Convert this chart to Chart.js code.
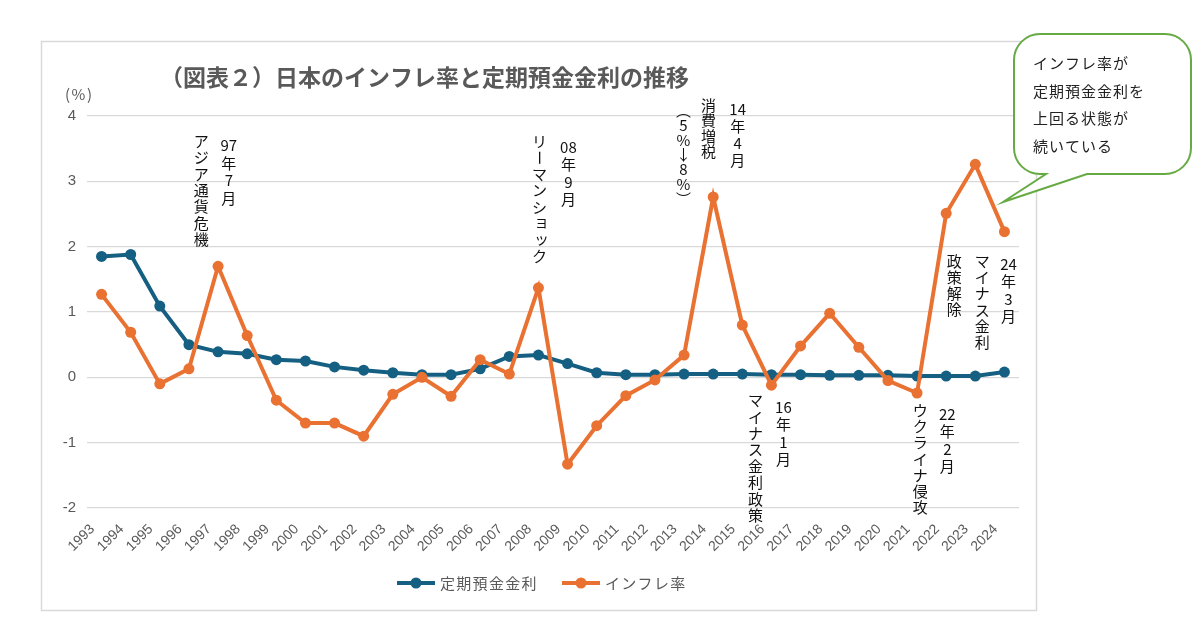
<!DOCTYPE html>
<html><head><meta charset="utf-8">
<script src="https://cdn.jsdelivr.net/npm/chart.js@4.4.1/dist/chart.umd.min.js"></script>
<style>html,body{margin:0;padding:0;background:#fff;}canvas{display:block;}</style>
</head><body>
<canvas id="c" width="1200" height="620"></canvas>
<script>
// ---------------- data ----------------
const years = ['1993','1994','1995','1996','1997','1998','1999','2000','2001','2002','2003','2004','2005','2006','2007','2008','2009','2010','2011','2012','2013','2014','2015','2016','2017','2018','2019','2020','2021','2022','2023','2024'];
const depositRate = [1.85,1.88,1.09,0.50,0.39,0.36,0.27,0.25,0.16,0.11,0.07,0.04,0.04,0.13,0.32,0.34,0.21,0.07,0.04,0.04,0.05,0.05,0.05,0.04,0.04,0.03,0.03,0.03,0.02,0.02,0.02,0.08];
const inflationRate = [1.27,0.69,-0.10,0.13,1.70,0.64,-0.35,-0.70,-0.70,-0.90,-0.26,0.00,-0.29,0.27,0.05,1.37,-1.33,-0.74,-0.28,-0.04,0.34,2.76,0.80,-0.12,0.48,0.98,0.46,-0.05,-0.24,2.51,3.26,2.23];
const seriesNames = ['定期預金金利','インフレ率'];
const yMin = -2, yMax = 4, yStep = 1;
const titleText = '（図表２）日本のインフレ率と定期預金金利の推移';
const unitText = '(%)';
const eventTexts = ['97年7月','アジア通貨危機','08年9月','リーマンショック','14年4月','消費増税','︵5%↓8%︶','16年1月','マイナス金利政策','22年2月','ウクライナ侵攻','24年3月','マイナス金利','政策解除'];
const calloutLines = ['インフレ率が','定期預金金利を','上回る状態が','続いている'];

// ---------------- layout / style ----------------
const BLUE = '#156082', ORANGE = '#E97132', GRAY = '#595959';
const CJK = '"Noto Sans CJK JP", "Noto Sans", sans-serif';
const LAT = '"Liberation Sans", Arial, sans-serif';
// column anchors: x in category index units, top in value units, step in px
const eventLayout = [
  {x:4.37, top:3.68, step:17.5},
  {x:3.42, top:3.74, step:16.4},
  {x:16.03, top:3.66, step:17.5},
  {x:15.04, top:3.74, step:16.5},
  {x:21.84, top:4.24, step:17.2},
  {x:20.84, top:4.29, step:15.5},
  {x:19.98, top:4.20, step:14.8},
  {x:23.41, top:-0.32, step:17.5},
  {x:22.45, top:-0.23, step:16.4},
  {x:29.04, top:-0.43, step:17.5},
  {x:28.11, top:-0.38, step:16.2},
  {x:31.14, top:1.87, step:17.5},
  {x:30.24, top:1.90, step:16.2},
  {x:29.28, top:1.90, step:16.0}
];

function splitCells(s){ return s.match(/\d{2,}|./gu); }

function drawVertical(ctx, text, cx, top, step){
  const cells = splitCells(text);
  ctx.save();
  ctx.font = '15px ' + CJK;
  ctx.fillStyle = '#111';
  ctx.textAlign = 'center';
  ctx.textBaseline = 'middle';
  cells.forEach((c,i)=>{
    const cy = top + step*(i+0.5);
    if (c === 'ー'){
      ctx.save(); ctx.translate(cx, cy); ctx.rotate(Math.PI/2); ctx.fillText(c,0,0); ctx.restore();
    } else if ('ョッャュィァェォ'.includes(c)){
      ctx.fillText(c, cx+2, cy-2);
    } else {
      ctx.fillText(c, cx, cy);
    }
  });
  ctx.restore();
}

const decor = {
  id:'decor',
  beforeDraw(chart){
    const ctx = chart.ctx;
    ctx.save();
    ctx.fillStyle = '#fff';
    ctx.fillRect(0,0,chart.width,chart.height);
    ctx.strokeStyle = '#d9d9d9';
    ctx.lineWidth = 1.5;
    ctx.strokeRect(41.5, 41.5, 995, 569);
    ctx.restore();
  },
  afterDraw(chart){
    const ctx = chart.ctx;
    const xs = chart.scales.x, ys = chart.scales.y;
    // title
    ctx.save();
    ctx.font = 'bold 23px ' + CJK;
    ctx.fillStyle = GRAY;
    ctx.textAlign = 'left';
    ctx.textBaseline = 'middle';
    ctx.fillText(titleText, 160, 77);
    // unit
    ctx.font = '15px ' + CJK;
    ctx.letterSpacing = '1.5px';
    ctx.fillText(unitText, 65, 94);
    ctx.restore();

    // events
    eventTexts.forEach((t,i)=>{
      const L = eventLayout[i];
      drawVertical(ctx, t, xs.getPixelForValue(L.x), ys.getPixelForValue(L.top), L.step);
    });

    // legend
    ctx.save();
    const legendY = 583;
    const items = [{x:397, color:BLUE, name:seriesNames[0]},{x:562, color:ORANGE, name:seriesNames[1]}];
    items.forEach(it=>{
      ctx.strokeStyle = it.color; ctx.lineWidth = 4; ctx.lineCap='butt';
      ctx.beginPath(); ctx.moveTo(it.x, legendY); ctx.lineTo(it.x+38, legendY); ctx.stroke();
      ctx.fillStyle = it.color;
      ctx.beginPath(); ctx.arc(it.x+19, legendY, 5.5, 0, Math.PI*2); ctx.fill();
      ctx.fillStyle = GRAY;
      ctx.font = '15px ' + CJK;
      ctx.letterSpacing = '1.3px';
      ctx.textAlign = 'left'; ctx.textBaseline = 'middle';
      ctx.fillText(it.name, it.x+43, legendY);
    });
    ctx.restore();

    // callout bubble
    ctx.save();
    const L=1014, T=34, R=1191, B=174, r=26;
    const tb1=1046, tb2=1087, tipX=1003, tipY=202;
    ctx.beginPath();
    ctx.moveTo(L+r, T);
    ctx.lineTo(R-r, T);
    ctx.arcTo(R, T, R, T+r, r);
    ctx.lineTo(R, B-r);
    ctx.arcTo(R, B, R-r, B, r);
    ctx.lineTo(tb2, B);
    ctx.lineTo(tipX, tipY);
    ctx.lineTo(tb1, B);
    ctx.lineTo(L+r, B);
    ctx.arcTo(L, B, L, B-r, r);
    ctx.lineTo(L, T+r);
    ctx.arcTo(L, T, L+r, T, r);
    ctx.closePath();
    ctx.fillStyle = '#fff';
    ctx.fill();
    ctx.strokeStyle = '#66AA44';
    ctx.lineWidth = 2;
    ctx.stroke();
    ctx.fillStyle = '#222';
    ctx.font = '15px ' + CJK;
    ctx.letterSpacing = '1px';
    ctx.textAlign = 'left'; ctx.textBaseline = 'middle';
    calloutLines.forEach((s,i)=> ctx.fillText(s, 1033, 63 + i*27.8));
    ctx.restore();
  }
};

new Chart(document.getElementById('c'), {
  type:'line',
  data:{
    labels: years,
    datasets:[
      {label:seriesNames[0], data:depositRate, borderColor:BLUE, backgroundColor:BLUE, pointBackgroundColor:BLUE, pointBorderWidth:0, pointRadius:5.5, borderWidth:4, tension:0, order:1},
      {label:seriesNames[1], data:inflationRate, borderColor:ORANGE, backgroundColor:ORANGE, pointBackgroundColor:ORANGE, pointBorderWidth:0, pointRadius:5.5, borderWidth:4, tension:0, order:0}
    ]
  },
  options:{
    responsive:false,
    animation:false,
    devicePixelRatio:1,
    layout:{padding:{top:116, right:181, bottom:0, left:0}},
    plugins:{legend:{display:false}, title:{display:false}, tooltip:{enabled:false}},
    scales:{
      x:{
        offset:true,
        grid:{display:false},
        border:{display:false},
        ticks:{color:GRAY, font:{family:LAT, size:14}, maxRotation:45, minRotation:45, autoSkip:false, padding:5, labelOffset:-9},
        afterFit(s){ s.height = 112; }
      },
      y:{
        min:yMin, max:yMax,
        grid:{color:'#d9d9d9', lineWidth:1.3, drawTicks:false},
        border:{display:false},
        ticks:{stepSize:yStep, color:GRAY, font:{family:LAT, size:15}, padding:11},
        afterFit(s){ s.width = 87; }
      }
    }
  },
  plugins:[decor]
});
</script>
</body></html>
